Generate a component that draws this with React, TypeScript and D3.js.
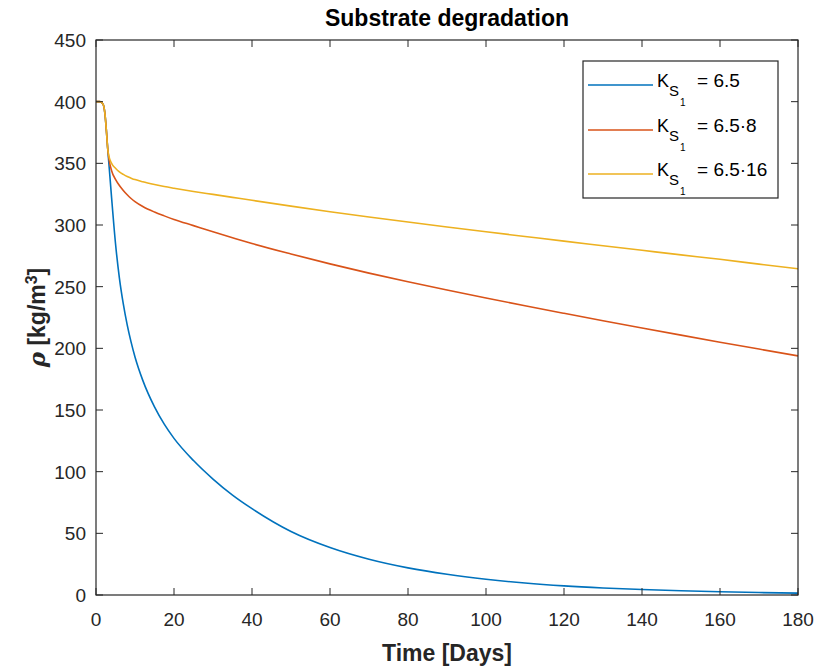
import React from "react";
import * as d3 from "d3";

const times = [0, 1, 1.8, 2.3, 2.7, 3.0, 3.3, 4, 5, 6, 7, 8, 9, 10, 12, 15, 17.5, 20, 25, 30, 35, 40, 50, 60, 70, 80, 90, 100, 110, 120, 130, 140, 150, 160, 170, 180];
const seriesBlue = [400, 400, 398, 390, 375, 362, 350, 322, 285, 257, 236, 219, 205, 193, 174, 152.5, 138.5, 127, 109, 94, 81, 70, 51.5, 38.5, 29, 22, 16.8, 12.8, 9.7, 7.4, 5.7, 4.4, 3.4, 2.6, 2.0, 1.5];
const seriesRed = [400, 400, 398, 390, 375, 362, 354, 344, 337, 332, 328, 324.5, 321.5, 319, 315, 310.5, 307.4, 304.5, 299.5, 294.5, 289.7, 285, 276.5, 268.5, 261, 254, 247.3, 240.8, 234.5, 228.4, 222.4, 216.5, 210.7, 205, 199.4, 193.9];
const seriesYellow = [400, 400, 398, 390, 375, 362, 356, 350, 346, 343, 341, 339.3, 338, 336.8, 335, 332.8, 331.2, 329.8, 327.2, 324.8, 322.4, 320, 315.3, 310.8, 306.5, 302.4, 298.4, 294.5, 290.7, 286.9, 283.2, 279.5, 275.8, 272.2, 268.3, 264.5];
const legendValues = ["6.5", "6.5·8", "6.5·16"];
const colors = ["#0072BD", "#D95319", "#EDB120"];
const xTicks = [0, 20, 40, 60, 80, 100, 120, 140, 160, 180];
const yTicks = [0, 50, 100, 150, 200, 250, 300, 350, 400, 450];

const W = 817, H = 668;
const L = 96, R = 798, T = 40, B = 595;
const axisColor = "#262626";
const font = "'Liberation Sans', Arial, Helvetica, sans-serif";

export default function App() {
  const x = d3.scaleLinear().domain([0, 180]).range([L, R]);
  const y = d3.scaleLinear().domain([0, 450]).range([B, T]);
  const line = d3.line<number>().x((_, i) => x(times[i])).y((v) => y(v)).curve(d3.curveMonotoneX);
  const series = [seriesBlue, seriesRed, seriesYellow];
  const tick = 7;
  const legX = 583, legY = 61, legW = 195, legH = 137;
  const rowY = [85, 130, 174];
  return (
    <svg width={W} height={H} style={{ position: "absolute", left: 0, top: 0, background: "#fff" }} fontFamily={font}>
      <rect x={0} y={0} width={W} height={H} fill="#fff" />
      <defs>
        <clipPath id="plot">
          <rect x={L} y={T} width={R - L} height={B - T} />
        </clipPath>
      </defs>
      <g clipPath="url(#plot)">
        {series.map((s, i) => (
          <path key={i} d={line(s) || ""} fill="none" stroke={colors[i]} strokeWidth={1.6} />
        ))}
      </g>
      <rect x={L} y={T} width={R - L} height={B - T} fill="none" stroke={axisColor} strokeWidth={1.2} />
      {xTicks.map((t) => (
        <g key={"x" + t}>
          <line x1={x(t)} x2={x(t)} y1={B} y2={B - tick} stroke={axisColor} strokeWidth={1} />
          <line x1={x(t)} x2={x(t)} y1={T} y2={T + tick} stroke={axisColor} strokeWidth={1} />
          <text x={x(t)} y={626} textAnchor="middle" fontSize={19} fill={axisColor}>{t}</text>
        </g>
      ))}
      {yTicks.map((t) => (
        <g key={"y" + t}>
          <line x1={L} x2={L + tick} y1={y(t)} y2={y(t)} stroke={axisColor} strokeWidth={1} />
          <line x1={R} x2={R - tick} y1={y(t)} y2={y(t)} stroke={axisColor} strokeWidth={1} />
          <text x={86} y={y(t) + 7} textAnchor="end" fontSize={19} fill={axisColor}>{t}</text>
        </g>
      ))}
      <text x={(L + R) / 2} y={26} textAnchor="middle" fontSize={23} fontWeight="bold" fill="#000">Substrate degradation</text>
      <text x={(L + R) / 2} y={661} textAnchor="middle" fontSize={23} fontWeight="bold" fill={axisColor}>Time [Days]</text>
      <text transform={`translate(45, ${(T + B) / 2}) rotate(-90)`} textAnchor="middle" fontSize={23} fontWeight="bold" fill={axisColor}>
        <tspan fontStyle="italic" fontFamily="'DejaVu Serif', serif">ρ</tspan>
        <tspan> [kg/m</tspan>
        <tspan dy={-8} fontSize={16}>3</tspan>
        <tspan dy={8}>]</tspan>
      </text>
      <rect x={legX} y={legY} width={legW} height={legH} fill="#fff" stroke={axisColor} strokeWidth={1.2} />
      {legendValues.map((v, i) => (
        <g key={"l" + i}>
          <line x1={588} x2={653} y1={rowY[i]} y2={rowY[i]} stroke={colors[i]} strokeWidth={1.6} />
          <text x={657} y={rowY[i] + 2} fontSize={18} fill="#000">K</text>
          <text x={669} y={rowY[i] + 11} fontSize={15} fill="#000">S</text>
          <text x={680} y={rowY[i] + 21} fontSize={10} fill="#000">1</text>
          <text x={697} y={rowY[i] + 2} fontSize={19} fill="#000">= {v}</text>
        </g>
      ))}
    </svg>
  );
}
